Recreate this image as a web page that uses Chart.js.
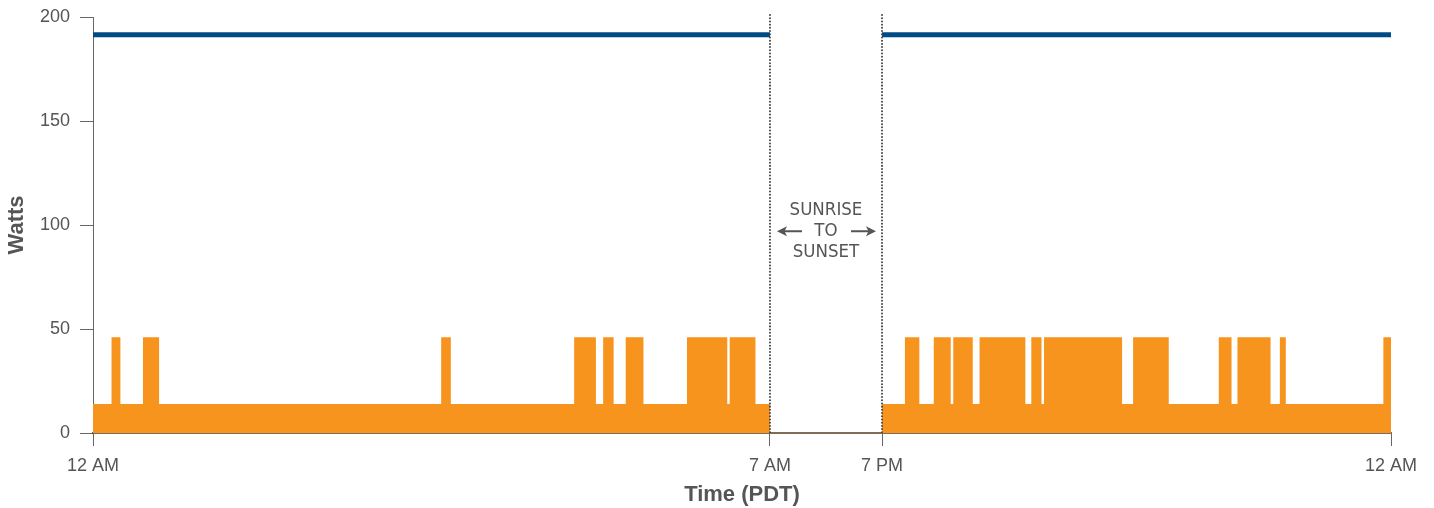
<!DOCTYPE html>
<html>
<head>
<meta charset="utf-8">
<script src="https://cdn.jsdelivr.net/npm/chart.js@4.4.1/dist/chart.umd.min.js"></script>
<style>
  html, body { margin: 0; padding: 0; background: #fff; }
  #wrap { width: 1434px; height: 508px; position: relative; }
</style>
</head>
<body>
<div id="wrap"><canvas id="powerChart"></canvas></div>
<script>
// all times are minutes since midnight (PDT)
const tickMinutes = [0, 420, 1140, 1440];
const tickLabels = ['12 AM', '7 AM', '7 PM', '12 AM'];
const noteLines = ['SUNRISE', 'TO', 'SUNSET'];

const baseWatts = 14;
const peakWatts = 46;
const lampWatts = 191.5;

const morningRange = [0, 420];
const morningOn  = [11.5, 31, 216, 298.5, 316.5, 330.5, 368.5, 395];
const morningOff = [17,   41, 222, 312,   323,   341.5, 393.5, 411];

const eveningRange = [1140, 1440];
const eveningOn  = [1153.5, 1170.5, 1182,   1197.5, 1228, 1235.5, 1288, 1338.5, 1349.5, 1374.5, 1435.5];
const eveningOff = [1162,   1180.5, 1193.5, 1224.5, 1234, 1281.5, 1309, 1346,   1369,   1378,   1440];

const TEXT = '#555555';
const ORANGE = '#f7941e';
const BLUE = '#004a86';

// daytime (7 AM - 7 PM) is squeezed into a short gap on the axis
const GAP_WIDTH = 69.5;
const EVENING_STRETCH = 1.0526;
const toAxis = m => m <= 420 ? m : 420 + GAP_WIDTH + (m - 1140) * EVENING_STRETCH;

const buildSteps = (range, on, off) => {
  const pts = [{x: toAxis(range[0]), y: baseWatts}];
  on.forEach((start, i) => {
    pts.push({x: toAxis(start), y: peakWatts});
    pts.push({x: toAxis(off[i]), y: baseWatts});
  });
  if (off[off.length - 1] < range[1]) {
    pts.push({x: toAxis(range[1]), y: baseWatts});
  }
  return pts;
};

const flatLine = (range, level) => [
  {x: toAxis(range[0]), y: level},
  {x: toAxis(range[1]), y: level}
];

const loadSet = (data) => ({
  data: data,
  stepped: true,
  fill: 'origin',
  backgroundColor: ORANGE,
  borderColor: 'transparent',
  borderWidth: 0,
  pointRadius: 0
});

const lampSet = (data) => ({
  data: data,
  fill: false,
  borderColor: BLUE,
  borderWidth: 5,
  pointRadius: 0
});

const arrow = (ctx, x0, x1, y) => {
  const dir = Math.sign(x1 - x0);
  ctx.beginPath();
  ctx.moveTo(x0, y);
  ctx.lineTo(x1 - dir * 6, y);
  ctx.stroke();
  ctx.beginPath();
  ctx.moveTo(x1, y);
  ctx.lineTo(x1 - dir * 10, y - 5);
  ctx.lineTo(x1 - dir * 7.5, y);
  ctx.lineTo(x1 - dir * 10, y + 5);
  ctx.closePath();
  ctx.fill();
};

const sunNote = {
  id: 'sunNote',
  afterDatasetsDraw(chart) {
    const {ctx, chartArea, scales: {x, y}} = chart;
    const xa = x.getPixelForValue(toAxis(morningRange[1]));
    const xb = x.getPixelForValue(toAxis(eveningRange[0]));
    ctx.save();
    ctx.strokeStyle = '#444';
    ctx.lineWidth = 2;
    ctx.lineCap = 'round';
    ctx.setLineDash([0.01, 3.2]);
    [xa, xb].forEach(px => {
      ctx.beginPath();
      ctx.moveTo(px, chartArea.top - 2);
      ctx.lineTo(px, chartArea.bottom);
      ctx.stroke();
    });
    ctx.setLineDash([]);
    ctx.lineCap = 'butt';

    const cx = (xa + xb) / 2;
    const cy = y.getPixelForValue(97);
    ctx.fillStyle = TEXT;
    ctx.font = '18.5px "DejaVu Sans Condensed", "Liberation Sans Narrow", sans-serif';
    ctx.textAlign = 'center';
    ctx.textBaseline = 'middle';
    noteLines.forEach((t, i) => ctx.fillText(t, cx, cy + (i - 1) * 21));

    ctx.strokeStyle = TEXT;
    ctx.lineWidth = 2;
    arrow(ctx, cx - 24, cx - 49, cy);
    arrow(ctx, cx + 25, cx + 50, cy);
    ctx.restore();
  }
};

const tickFont = {family: '"Liberation Sans", Arial, sans-serif', size: 18};
const titleFont = {family: '"Liberation Sans", Arial, sans-serif', size: 22, weight: 'bold'};

new Chart(document.getElementById('powerChart').getContext('2d'), {
  type: 'line',
  data: {
    datasets: [
      loadSet(buildSteps(morningRange, morningOn, morningOff)),
      loadSet(buildSteps(eveningRange, eveningOn, eveningOff)),
      lampSet(flatLine(morningRange, lampWatts)),
      lampSet(flatLine(eveningRange, lampWatts))
    ]
  },
  options: {
    responsive: true,
    maintainAspectRatio: false,
    animation: false,
    layout: { padding: { top: 17, right: 43, left: 0, bottom: 0 } },
    plugins: {
      legend: { display: false },
      tooltip: { enabled: false }
    },
    scales: {
      x: {
        type: 'linear',
        min: 0,
        max: toAxis(1440),
        z: 1,
        afterBuildTicks(s) {
          s.ticks = tickMinutes.map(m => ({value: toAxis(m)}));
        },
        afterFit(s) { s.height = 75; },
        ticks: {
          autoSkip: false,
          maxRotation: 0,
          padding: 9,
          color: TEXT,
          font: tickFont,
          callback: (v, i) => tickLabels[i]
        },
        grid: { drawOnChartArea: false, tickLength: 13, color: '#666' },
        border: { color: 'rgba(60,30,0,0.65)', width: 2 },
        title: {
          display: true,
          text: 'Time (PDT)',
          color: TEXT,
          font: titleFont,
          padding: { top: 0, bottom: 0 }
        }
      },
      y: {
        min: 0,
        max: 200,
        z: 1,
        afterFit(s) {
          s.width = 93;
          s.paddingTop = 0;
          s.paddingBottom = 0;
        },
        ticks: { stepSize: 50, padding: 10, color: TEXT, font: tickFont },
        grid: { drawOnChartArea: false, tickLength: 13, color: '#666' },
        border: { color: '#666', width: 1 },
        title: {
          display: true,
          text: 'Watts',
          color: TEXT,
          font: titleFont,
          padding: { top: 4, bottom: 0 }
        }
      }
    }
  },
  plugins: [sunNote]
});
</script>
</body>
</html>
